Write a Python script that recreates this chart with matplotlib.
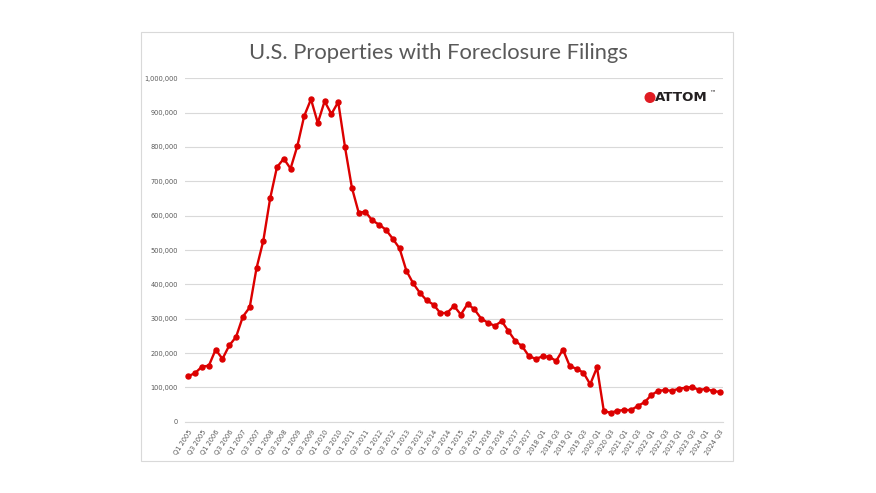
import matplotlib.pyplot as plt
from matplotlib.patches import Rectangle, Circle
from matplotlib.ticker import FuncFormatter

# quarterly filings Q1 2005 .. Q3 2024
years = list(range(2005, 2025))
filings = [
    132500, 142000, 160500, 163000,
    210000, 183000, 222000, 247000,
    306000, 333000, 447000, 527000,
    650000, 741000, 766000, 737000,
    803000, 890000, 939000, 870000,
    933000, 896000, 931000, 799000,
    682000, 609000, 611000, 586000,
    574000, 559000, 533000, 505000,
    440000, 403000, 375000, 353000,
    341000, 316000, 317000, 337000,
    312000, 343000, 327000, 300000,
    288000, 279000, 293000, 264000,
    235000, 220000, 191000, 183000,
    190000, 189000, 177000, 210000,
    162000, 154000, 143000, 109000,
    158000, 31000, 26000, 32000,
    34000, 34000, 46000, 57000,
    78000, 90000, 92000, 90000,
    96000, 99000, 101000, 92000,
    96000, 89000, 87000,
]

# label style changes from "Q1 2005" to "2018 Q1" in the source
quarters = []
for y in years:
    for q in range(1, 5):
        quarters.append(f"Q{q} {y}" if y < 2018 else f"{y} Q{q}")
quarters = quarters[:len(filings)]

red = '#DC0000'
grey_txt = '#595959'
grid_col = '#D9D9D9'

fig = plt.figure(figsize=(8.76, 4.93), dpi=100)
fig.patch.set_facecolor('white')

# chart frame
fig.patches.append(Rectangle((141 / 876, 32 / 493), 592 / 876, 429 / 493,
                             transform=fig.transFigure, facecolor='none',
                             edgecolor=grid_col, linewidth=0.8, zorder=-1))

ax = fig.add_axes([185 / 876, 71.3 / 493, 538 / 876, 343.4 / 493])
ax.set_facecolor('none')

x = list(range(len(filings)))
ax.plot(x, filings, color=red, linewidth=1.7, marker='o', markersize=3.6,
        markeredgecolor=red, markerfacecolor=red, zorder=3)

ax.set_xlim(-0.5, len(filings) - 0.5)
ax.set_ylim(0, 1000000)
ax.set_yticks(range(0, 1000001, 100000))
ax.yaxis.set_major_formatter(FuncFormatter(lambda v, p: f"{int(v):,}"))
ax.grid(axis='y', color=grid_col, linewidth=0.8)
ax.set_axisbelow(True)

ax.set_xticks(x[::2])
ax.set_xticklabels(quarters[::2], rotation=57, ha='right',
                   rotation_mode='anchor', fontsize=4.8, color=grey_txt)
ax.tick_params(axis='x', length=0, pad=5)
ax.tick_params(axis='y', length=0, pad=5, labelsize=4.8, labelcolor=grey_txt)

for s in ['top', 'right', 'left']:
    ax.spines[s].set_visible(False)
ax.spines['bottom'].set_color(grid_col)
ax.spines['bottom'].set_linewidth(0.8)

fig.text(438 / 876, 1 - 53 / 493, 'U.S. Properties with Foreclosure Filings',
         ha='center', va='center', fontsize=15.8, color=grey_txt,
         family='Lato')

# ATTOM logo
fig.patches.append(Circle((650 / 100, (493 - 97.5) / 100), 0.048,
                          transform=fig.dpi_scale_trans, color='#E01B22'))
fig.text(655 / 876, 1 - 97.5 / 493, 'ATTOM', ha='left', va='center',
         fontsize=9.6, fontweight='bold', color='#231F20')
fig.text(709 / 876, 1 - 93 / 493, '\u2122', ha='left', va='center',
         fontsize=4.5, color='#231F20')

fig.savefig('out.png', dpi=100)
